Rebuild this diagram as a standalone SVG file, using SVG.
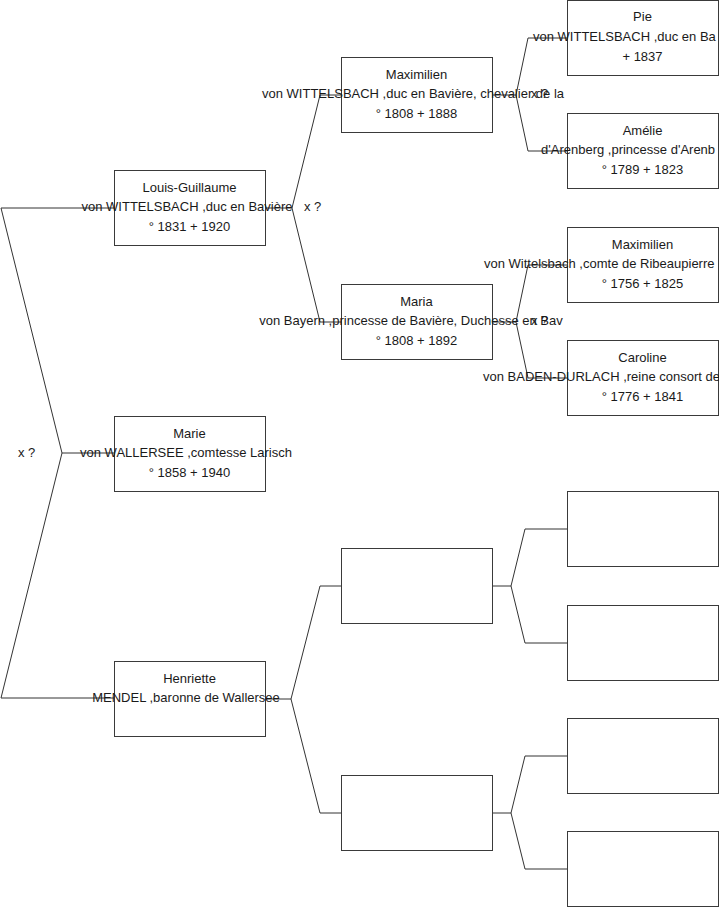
<svg xmlns="http://www.w3.org/2000/svg" width="719" height="908" viewBox="0 0 719 908">
<style>
.box{fill:#fff;stroke:#3a3a3a;stroke-width:1}
.ln{fill:none;stroke:#333;stroke-width:1}
text{font-family:"Liberation Sans",Arial,sans-serif;font-size:13px;fill:#1a1a1a}
.c{text-anchor:middle}
</style>
<rect width="719" height="908" fill="#fff"/>
<g id="connectors">
<path class="ln" d="M1,208 H114 M1,208 L62,453 L1,698 M62,453 H114 M1,698 H114"/>
<path class="ln" d="M265,208 H292 M320,95 L292,208 L320,322 M320,95 H341 M320,322 H341"/>
<path class="ln" d="M265,699 H291 M320,586 L291,699 L320,813 M320,586 H341 M320,813 H341"/>
<path class="ln" d="M492,95 H516 M528,38 L516,95 L528,151 M528,38 H567 M528,151 H567"/>
<path class="ln" d="M492,322 H516 M528,265 L516,322 L528,378 M528,265 H567 M528,378 H567"/>
<path class="ln" d="M492,586 H511 M525,529 L511,586 L525,643 M525,529 H567 M525,643 H567"/>
<path class="ln" d="M492,813 H511 M525,756 L511,813 L525,869 M525,756 H567 M525,869 H567"/>
<text x="18" y="457">x ?</text>
<text x="304" y="211">x ?</text>
<text x="531" y="98">x ?</text>
<text x="531" y="325">x ?</text>
</g>
<g id="louis-guillaume">
<rect class="box" x="114.5" y="170.5" width="151" height="75"/>
<text class="c" x="189.5" y="191.5">Louis-Guillaume</text>
<text class="c" x="187" y="211">von WITTELSBACH ,duc en Bavière</text>
<text class="c" x="189.5" y="230.5">° 1831 + 1920</text>
</g>
<g id="marie">
<rect class="box" x="114.5" y="416.5" width="151" height="75"/>
<text class="c" x="189.5" y="437.5">Marie</text>
<text class="c" x="186" y="457">von WALLERSEE ,comtesse Larisch</text>
<text class="c" x="189.5" y="476.5">° 1858 + 1940</text>
</g>
<g id="henriette">
<rect class="box" x="114.5" y="661.5" width="151" height="75"/>
<text class="c" x="189.5" y="682.5">Henriette</text>
<text class="c" x="186" y="702">MENDEL ,baronne de Wallersee</text>
</g>
<g id="maximilien">
<rect class="box" x="341.5" y="57.5" width="151" height="75"/>
<text class="c" x="416.5" y="78.5">Maximilien</text>
<text class="c" x="413" y="98">von WITTELSBACH ,duc en Bavière, chevalier de la</text>
<text class="c" x="416.5" y="117.5">° 1808 + 1888</text>
</g>
<g id="maria">
<rect class="box" x="341.5" y="284.5" width="151" height="75"/>
<text class="c" x="416.5" y="305.5">Maria</text>
<text class="c" x="411" y="325">von Bayern ,princesse de Bavière, Duchesse en Bav</text>
<text class="c" x="416.5" y="344.5">° 1808 + 1892</text>
</g>
<g id="empty-2a"><rect class="box" x="341.5" y="548.5" width="151" height="75"/></g>
<g id="empty-2b"><rect class="box" x="341.5" y="775.5" width="151" height="75"/></g>
<g id="pie">
<rect class="box" x="567.5" y="0.5" width="151" height="75"/>
<text class="c" x="642.5" y="21">Pie</text>
<text x="533" y="41">von WITTELSBACH ,duc en Ba</text>
<text class="c" x="642.5" y="60.5">+ 1837</text>
</g>
<g id="amelie">
<rect class="box" x="567.5" y="113.5" width="151" height="75"/>
<text class="c" x="642.5" y="134.5">Amélie</text>
<text x="541" y="154">d'Arenberg ,princesse d'Arenb</text>
<text class="c" x="642.5" y="173.5">° 1789 + 1823</text>
</g>
<g id="maximilien-r">
<rect class="box" x="567.5" y="227.5" width="151" height="75"/>
<text class="c" x="642.5" y="248.5">Maximilien</text>
<text x="484" y="268">von Wittelsbach ,comte de Ribeaupierre</text>
<text class="c" x="642.5" y="287.5">° 1756 + 1825</text>
</g>
<g id="caroline">
<rect class="box" x="567.5" y="340.5" width="151" height="75"/>
<text class="c" x="642.5" y="361.5">Caroline</text>
<text x="483" y="381">von BADEN-DURLACH ,reine consort de</text>
<text class="c" x="642.5" y="400.5">° 1776 + 1841</text>
</g>
<g id="empty-3a"><rect class="box" x="567.5" y="491.5" width="151" height="75"/></g>
<g id="empty-3b"><rect class="box" x="567.5" y="605.5" width="151" height="75"/></g>
<g id="empty-3c"><rect class="box" x="567.5" y="718.5" width="151" height="75"/></g>
<g id="empty-3d"><rect class="box" x="567.5" y="831.5" width="151" height="75"/></g>
</svg>
